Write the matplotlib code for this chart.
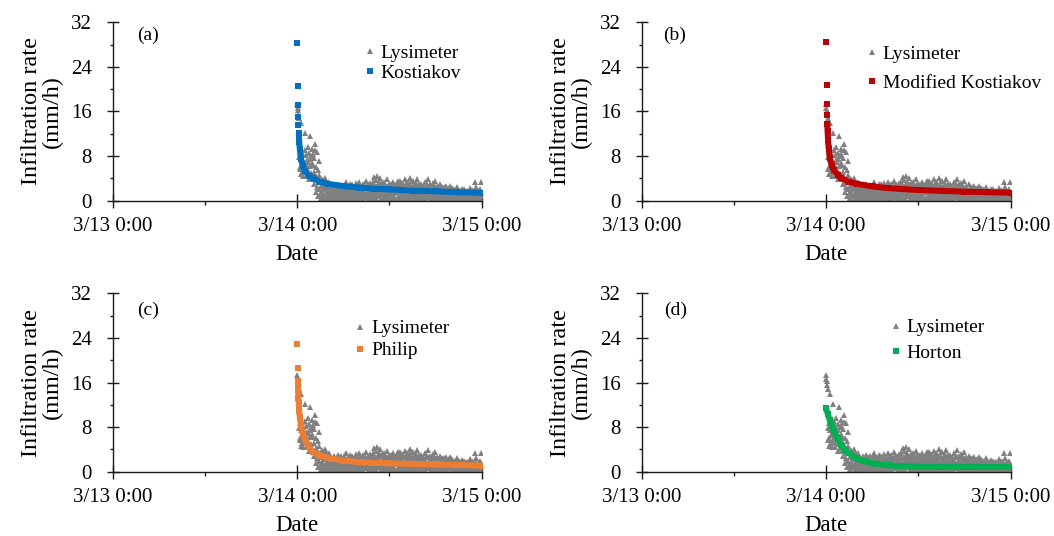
import numpy as np
import matplotlib
matplotlib.use("Agg")
import matplotlib.pyplot as plt
import matplotlib.dates as mdates
from matplotlib.lines import Line2D
from matplotlib.ticker import FixedLocator

plt.rcParams['font.family'] = ['Liberation Serif', 'DejaVu Serif']

# ---------------------------------------------------------------------------
# Data
# ---------------------------------------------------------------------------
START = np.datetime64('2020-03-14T00:00')
LYS_STEP_MIN = 3

# Measured infiltration rate (mm/h), one value every 3 minutes, 20 per hour
lysimeter_rate = [
    17.3, 16.6, 16.2, 15.5, 14.8, 7.9, 5.6, 8.7, 6.1, 4.7, 13.9, 7.4, 9.0, 5.2, 6.5, 8.1, 4.4, 7.0, 5.9, 12.2,
    9.1, 5.3, 6.6, 8.2, 4.4, 7.2, 5.8, 9.6, 6.9, 4.9, 8.6, 3.8, 7.5, 6.2, 11.6, 5.0, 8.0, 4.2, 6.8, 9.3,
    8.4, 6.3, 3.8, 7.7, 5.1, 2.9, 10.2, 9.0, 4.3, 1.6, 6.0, 2.4, 8.8, 3.3, 5.5, 0.9, 7.1, 2.0, 4.6, 1.2,
    3.4, 1.2, 2.6, 0.5, 3.9, 1.8, 0.2, 2.9, 1.4, 3.1, 0.8, 2.2, 4.1, 1.0, 2.5, 0.3, 3.6, 1.6, 2.0, 0.7,
    1.9, 0.4, 2.8, 1.1, 3.3, 0.7, 2.4, 1.6, 0.1, 2.7, 1.3, 0.6, 2.1, 1.8, 0.3, 2.9, 1.0, 2.3, 0.5, 1.5,
    2.5, 1.0, 0.3, 2.1, 1.7, 3.0, 0.5, 1.4, 2.6, 0.9, 1.9, 0.2, 2.3, 1.2, 0.7, 2.8, 1.6, 0.4, 2.0, 1.1,
    1.5, 2.8, 0.6, 1.2, 2.3, 0.1, 3.4, 1.8, 0.7, 2.0, 1.1, 2.6, 0.4, 1.9, 2.4, 0.9, 1.4, 3.0, 0.2, 1.7,
    0.4, 1.6, 2.9, 0.9, 1.3, 2.2, 0.2, 1.7, 2.5, 0.6, 1.0, 2.1, 3.1, 1.5, 0.3, 2.7, 1.2, 0.8, 2.4, 1.9,
    3.3, 1.4, 0.3, 2.4, 1.9, 0.8, 2.7, 1.2, 0.5, 2.0, 3.0, 1.5, 0.2, 2.2, 1.7, 0.9, 2.6, 1.1, 3.6, 0.6,
    0.7, 2.3, 1.1, 2.9, 0.2, 1.8, 2.5, 0.9, 1.6, 3.2, 0.4, 2.1, 1.3, 2.7, 0.6, 1.9, 3.4, 1.0, 2.4, 0.3,
    1.3, 4.3, 2.6, 0.6, 3.7, 1.9, 0.3, 2.4, 4.5, 1.0, 2.8, 1.5, 3.3, 0.8, 2.1, 4.0, 1.2, 2.9, 0.5, 1.7,
    3.1, 0.8, 2.2, 1.7, 0.4, 2.9, 1.2, 3.4, 0.6, 2.0, 1.4, 2.6, 0.2, 3.8, 1.9, 0.9, 2.4, 1.1, 3.0, 0.5,
    0.9, 2.4, 1.6, 3.0, 0.2, 1.9, 2.7, 1.1, 0.5, 2.2, 3.3, 1.3, 2.0, 0.7, 2.8, 1.5, 0.3, 2.5, 1.8, 3.1,
    2.5, 0.7, 3.6, 1.5, 2.1, 0.3, 2.8, 1.0, 3.5, 1.8, 0.6, 2.3, 1.2, 3.2, 0.4, 2.0, 2.9, 1.4, 0.8, 2.6,
    1.2, 3.8, 2.0, 0.4, 2.9, 1.6, 3.4, 0.8, 2.4, 1.3, 3.1, 0.5, 2.2, 1.9, 4.0, 0.9, 2.7, 1.5, 0.2, 3.6,
    2.7, 1.1, 3.5, 0.9, 2.2, 1.7, 0.3, 2.8, 1.4, 3.2, 0.7, 2.0, 3.9, 1.3, 2.5, 0.5, 1.8, 3.0, 1.0, 2.3,
    1.6, 2.5, 0.5, 3.0, 1.2, 2.1, 0.8, 2.7, 1.9, 0.4, 2.3, 1.0, 3.3, 1.5, 0.2, 2.6, 1.8, 0.7, 2.9, 1.3,
    3.9, 1.4, 2.6, 0.6, 2.0, 1.1, 2.9, 0.3, 1.7, 2.4, 0.9, 1.5, 3.2, 0.5, 2.2, 1.2, 2.7, 0.8, 1.9, 3.5,
    0.8, 2.2, 1.3, 0.2, 2.6, 1.6, 0.6, 1.9, 2.3, 0.4, 1.2, 1.8, 2.9, 1.0, 0.3, 2.1, 1.5, 2.5, 0.7, 1.4,
    2.0, 0.5, 1.5, 2.4, 0.9, 1.1, 2.7, 0.3, 1.7, 0.7, 2.1, 1.4, 0.2, 1.9, 2.3, 0.8, 1.2, 2.6, 0.6, 1.6,
    0.6, 1.8, 1.0, 0.2, 2.2, 1.3, 0.5, 1.6, 0.9, 2.0, 0.3, 1.2, 1.9, 0.7, 1.4, 2.4, 0.4, 1.1, 1.7, 0.8,
    1.5, 0.4, 1.9, 0.8, 1.1, 0.2, 1.7, 0.6, 1.3, 2.1, 0.5, 1.0, 1.6, 0.3, 1.2, 2.0, 0.9, 1.4, 0.7, 1.8,
    0.7, 1.4, 0.3, 1.8, 0.9, 1.2, 0.1, 1.6, 0.6, 1.1, 2.3, 0.4, 1.3, 0.8, 1.9, 0.5, 1.0, 1.5, 0.2, 1.7,
    1.3, 0.5, 3.4, 0.8, 1.6, 0.2, 2.5, 1.0, 0.6, 1.4, 0.3, 1.1, 1.8, 0.7, 1.2, 0.4, 2.0, 0.9, 3.3, 1.5,
]

# Fitted model rates: elapsed minutes and rate (mm/h)
kostiakov_min = [2, 4, 6, 8, 10, 12, 16, 20, 30, 45, 60, 90, 120, 180, 240,
                 360, 480, 600, 720, 900, 1080, 1260, 1440]
kostiakov_rate = [28.2, 20.6, 17.1, 15.0, 13.6, 12.2, 10.5, 9.3, 7.4, 6.2, 5.4,
                  4.5, 4.0, 3.4, 3.0, 2.6, 2.35, 2.15, 2.0, 1.8, 1.65, 1.5, 1.4]

mod_kostiakov_min = [2, 4, 6, 8, 10, 12, 16, 20, 30, 45, 60, 90, 120, 180, 240,
                     360, 480, 600, 720, 900, 1080, 1260, 1440]
mod_kostiakov_rate = [28.4, 20.8, 17.3, 15.3, 13.8, 12.5, 10.8, 9.5, 7.6, 6.3,
                      5.5, 4.6, 4.0, 3.4, 3.0, 2.55, 2.25, 2.05, 1.9, 1.75,
                      1.6, 1.5, 1.42]

philip_min = [2, 4, 6, 8, 10, 12, 16, 20, 30, 45, 60, 90, 120, 180, 240, 360,
              480, 600, 720, 900, 1080, 1260, 1440]
philip_rate = [23.0, 18.7, 16.2, 14.7, 13.2, 12.3, 10.9, 9.9, 8.2, 6.8, 5.9,
               4.4, 3.6, 2.9, 2.5, 2.0, 1.75, 1.6, 1.5, 1.4, 1.3, 1.2, 1.1]

horton_min = [0, 15, 30, 45, 60, 90, 120, 150, 180, 240, 300, 360, 480, 600,
              720, 900, 1080, 1260, 1440]
horton_rate = [11.4, 10.3, 9.2, 8.2, 7.3, 5.9, 4.8, 3.9, 3.3, 2.4, 1.85, 1.5,
               1.15, 1.0, 0.92, 0.87, 0.85, 0.84, 0.83]

panel_tags = ['(a)', '(b)', '(c)', '(d)']
model_names = ['Kostiakov', 'Modified Kostiakov', 'Philip', 'Horton']
model_colors = ['#0070C0', '#C00000', '#ED7D31', '#00B050']
model_minutes = [kostiakov_min, mod_kostiakov_min, philip_min, horton_min]
model_rates = [kostiakov_rate, mod_kostiakov_rate, philip_rate, horton_rate]
# leading fitted points that stand apart as single markers
model_isolated = [5, 4, 2, 0]

x_tick_dates = ['2020-03-13T00:00', '2020-03-14T00:00', '2020-03-15T00:00']
x_tick_labels = ['3/13 0:00', '3/14 0:00', '3/15 0:00']
x_minor_dates = ['2020-03-13T12:00', '2020-03-14T12:00']
y_ticks = [0, 8, 16, 24, 32]
y_minor_ticks = [4, 12, 20, 28]

# ---------------------------------------------------------------------------
# Figure
# ---------------------------------------------------------------------------
W, H = 1054, 536
fig = plt.figure(figsize=(W / 100, H / 100), dpi=100)
fig.patch.set_facecolor('white')

ax_w, ax_h = 369 / W, 178.3 / H
lefts = [112.7 / W, 641.5 / W, 112.7 / W, 641.5 / W]
bottoms = [1 - 200.6 / H, 1 - 200.6 / H, 1 - 471.7 / H, 1 - 471.7 / H]

legend_anchor = [(0.683, 0.877), (0.612, 0.873), (0.658, 0.852), (0.676, 0.858)]
legend_spacing = [0.12, 0.59, 0.23, 0.43]
tag_pos = [(0.065, 0.925), (0.058, 0.925), (0.065, 0.905), (0.060, 0.905)]

GRAY = '#808080'
AX_COLOR = '#1a1a1a'

lys_time = START + np.arange(len(lysimeter_rate)) * np.timedelta64(LYS_STEP_MIN, 'm')

for i in range(4):
    ax = fig.add_axes([lefts[i], bottoms[i], ax_w, ax_h])

    ax.plot(lys_time, lysimeter_rate, linestyle='none', marker='^', ms=3.8,
            mew=0, color=GRAY, zorder=2)

    mt = START + np.array(model_minutes[i]) * np.timedelta64(1, 'm')
    mr = np.array(model_rates[i])
    k = model_isolated[i]
    ax.plot(mt[k:], mr[k:], '-', color=model_colors[i], lw=4.3,
            solid_capstyle='butt', zorder=3)
    ax.plot(mt, mr, linestyle='none', marker='s', ms=3.9, mew=0,
            color=model_colors[i], zorder=3)

    ax.set_xlim(np.datetime64(x_tick_dates[0]), np.datetime64(x_tick_dates[-1]))
    ax.set_ylim(y_ticks[0], y_ticks[-1])

    ax.set_xticks([np.datetime64(d) for d in x_tick_dates])
    ax.set_xticklabels(x_tick_labels)
    ax.xaxis.set_minor_locator(FixedLocator(
        [mdates.date2num(np.datetime64(d)) for d in x_minor_dates]))
    ax.set_yticks(y_ticks)
    ax.yaxis.set_minor_locator(FixedLocator(y_minor_ticks))

    for s in ('top', 'right'):
        ax.spines[s].set_visible(False)
    for s in ('left', 'bottom'):
        ax.spines[s].set_color(AX_COLOR)
        ax.spines[s].set_linewidth(1.0)

    ax.tick_params(axis='y', which='major', direction='inout', length=9,
                   width=1.0, pad=10.6, labelsize=15, color=AX_COLOR)
    ax.tick_params(axis='y', which='minor', direction='out', length=2.5,
                   width=1.0, color=AX_COLOR)
    ax.tick_params(axis='x', which='major', direction='inout', length=9.4,
                   width=1.0, pad=7.0, labelsize=15, color=AX_COLOR)
    ax.tick_params(axis='x', which='minor', direction='out', length=3,
                   width=1.0, color=AX_COLOR)

    ax.set_ylabel('Infiltration rate\n(mm/h)', fontsize=17.5, linespacing=1.0)
    ax.yaxis.set_label_coords(-0.135, 0.5)
    ax.set_xlabel('Date', fontsize=16.5, labelpad=6)

    ax.text(tag_pos[i][0], tag_pos[i][1], panel_tags[i], transform=ax.transAxes,
            fontsize=14, ha='left', va='center')

    handles = [
        Line2D([], [], linestyle='none', marker='^', ms=3.8, mew=0, color=GRAY),
        Line2D([], [], linestyle='none', marker='s', ms=3.9, mew=0,
               color=model_colors[i]),
    ]
    ax.legend(handles, ['Lysimeter', model_names[i]], loc='upper left',
              bbox_to_anchor=legend_anchor[i], frameon=False, fontsize=14,
              handlelength=0.5, handletextpad=0.3,
              labelspacing=legend_spacing[i], borderpad=0, borderaxespad=0)

fig.savefig('out.png', dpi=100, facecolor='white')
